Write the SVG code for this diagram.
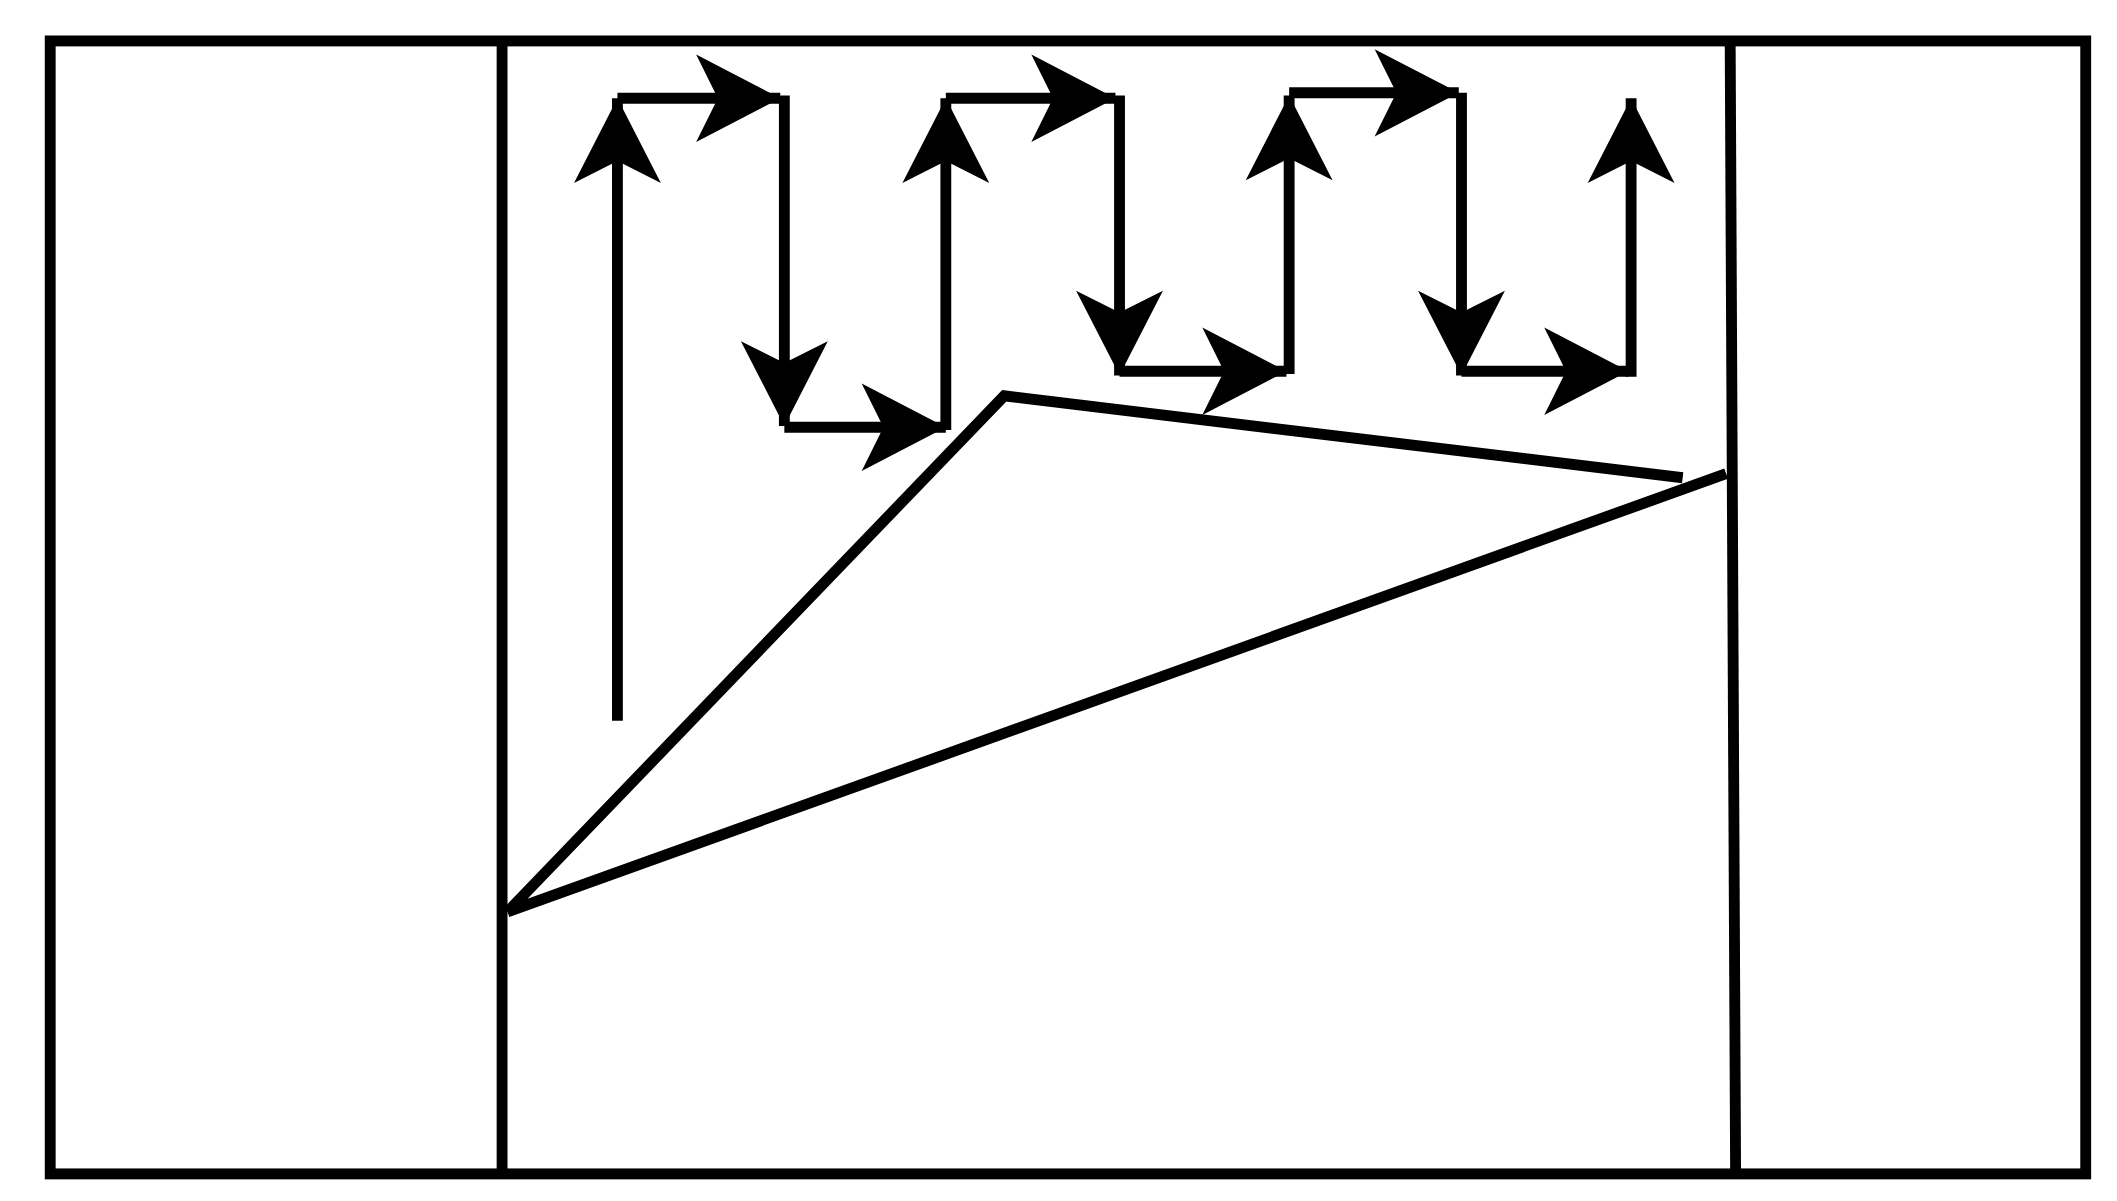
<svg xmlns="http://www.w3.org/2000/svg" width="2117" height="1201" viewBox="0 0 2117 1201">
<defs>
<style>.s{fill:none;stroke:#000;stroke-width:8}.a{fill:none;stroke:#000;stroke-width:8;marker-end:url(#h)}</style>
<marker id="h" markerUnits="userSpaceOnUse" viewBox="-62 -34 64 68" refX="0" refY="0" markerWidth="64" markerHeight="68" orient="auto" overflow="visible">
<path d="M0,0 L-62,-32 L-46,0 L-62,32 Z" fill="#000"/>
</marker>
</defs>
<rect width="2117" height="1201" fill="#fff"/>
<g transform="scale(1.357,1.365)">
<g id="frame">
<rect class="s" x="37" y="30" width="1500" height="830"/>
<line class="s" x1="370" y1="30" x2="370" y2="860"/>
<line class="s" x1="1275" y1="30" x2="1279" y2="860"/>
</g>
<g id="triangle">
<path class="s" d="M374,668 L740,290 L1240,350 M374,668 L1272,347"/>
</g>
<g id="connectors">
<line class="a" x1="455" y1="528" x2="455" y2="72"/>
<line class="a" x1="455" y1="72" x2="575" y2="72"/>
<line class="a" x1="578" y1="70" x2="578" y2="312"/>
<line class="a" x1="578" y1="313" x2="697" y2="313"/>
<line class="a" x1="697" y1="315" x2="697" y2="72"/>
<line class="a" x1="697" y1="72" x2="822" y2="72"/>
<line class="a" x1="825" y1="70" x2="825" y2="275"/>
<line class="a" x1="825" y1="272" x2="948" y2="272"/>
<line class="a" x1="950" y1="274" x2="950" y2="70"/>
<line class="a" x1="950" y1="68" x2="1075" y2="68"/>
<line class="a" x1="1077" y1="68" x2="1077" y2="275"/>
<line class="a" x1="1077" y1="272" x2="1200" y2="272"/>
<line class="a" x1="1202" y1="276" x2="1202" y2="72"/>
</g>
</g>
</svg>
